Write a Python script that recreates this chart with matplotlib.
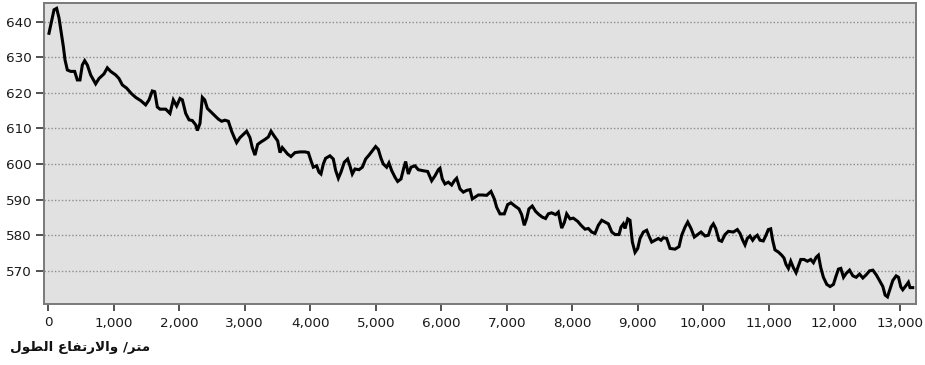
import matplotlib
matplotlib.use("Agg")
import matplotlib.pyplot as plt
from matplotlib import font_manager
from matplotlib.ft2font import FT2Font

# elevation profile: distance (m) and elevation (m)
dist = [15, 92, 132, 168, 203, 234, 260, 295, 346, 407, 447, 488, 524, 560, 600,
        651, 727, 778, 854, 905, 956, 1033, 1083, 1134, 1200, 1271, 1338, 1414,
        1490, 1541, 1591, 1628, 1668, 1709, 1796, 1861, 1912, 1963, 2014, 2050,
        2101, 2152, 2202, 2253, 2279, 2319, 2355, 2391, 2432, 2482, 2533, 2599,
        2650, 2700, 2752, 2802, 2843, 2878, 2929, 2980, 3031, 3082, 3117, 3158,
        3199, 3250, 3311, 3362, 3403, 3453, 3504, 3540, 3575, 3616, 3656, 3707,
        3768, 3845, 3921, 3972, 4013, 4048, 4099, 4135, 4165, 4201, 4236, 4302,
        4353, 4389, 4430, 4470, 4521, 4572, 4608, 4643, 4684, 4745, 4796, 4847,
        4898, 4948, 4999, 5040, 5081, 5116, 5167, 5202, 5243, 5294, 5335, 5386,
        5427, 5457, 5498, 5539, 5599, 5650, 5727, 5793, 5854, 5905, 5956, 5981,
        6016, 6057, 6108, 6159, 6200, 6235, 6286, 6337, 6388, 6439, 6474, 6515,
        6566, 6627, 6693, 6759, 6810, 6845, 6896, 6962, 7013, 7064, 7125, 7186,
        7227, 7267, 7303, 7338, 7389, 7440, 7491, 7541, 7592, 7633, 7684, 7745,
        7786, 7838, 7877, 7914, 7965, 8015, 8082, 8133, 8194, 8245, 8296, 8346,
        8397, 8449, 8499, 8550, 8602, 8652, 8713, 8743, 8779, 8804, 8846, 8880,
        8916, 8957, 8998, 9033, 9084, 9135, 9170, 9211, 9262, 9313, 9353, 9389,
        9440, 9491, 9567, 9628, 9669, 9720, 9761, 9811, 9862, 9913, 9964, 10025,
        10076, 10117, 10152, 10188, 10238, 10279, 10330, 10381, 10457, 10518,
        10559, 10600, 10635, 10670, 10711, 10752, 10787, 10823, 10864, 10914,
        10955, 10991, 11027, 11057, 11092, 11143, 11195, 11230, 11261, 11297,
        11333, 11373, 11414, 11450, 11486, 11536, 11587, 11638, 11679, 11720,
        11755, 11791, 11831, 11883, 11933, 11984, 12025, 12061, 12097, 12138,
        12179, 12230, 12281, 12331, 12382, 12433, 12484, 12535, 12586, 12637,
        12687, 12738, 12773, 12809, 12850, 12890, 12941, 12977, 13012, 13042,
        13093, 13128, 13153, 13194]
elev = [636.7, 643.3, 643.7, 641.0, 636.7, 633.0, 629.2, 626.4, 626.0, 626.0,
        623.6, 623.6, 627.8, 629.0, 627.8, 625.0, 622.5, 624.0, 625.3, 627.0,
        626.0, 625.0, 624.0, 622.2, 621.3, 619.8, 618.7, 617.8, 616.6, 618.0,
        620.5, 620.3, 616.0, 615.4, 615.4, 614.2, 618.0, 616.3, 618.4, 618.0,
        614.2, 612.4, 612.2, 611.0, 609.4, 611.4, 618.7, 618.0, 615.6, 614.7,
        613.8, 612.6, 612.0, 612.3, 612.0, 609.2, 607.4, 606.0, 607.4, 608.3,
        609.2, 607.4, 604.6, 602.5, 605.5, 606.2, 606.9, 607.6, 609.2, 607.8,
        606.5, 603.2, 604.6, 603.7, 602.8, 602.1, 603.2, 603.4, 603.4, 603.2,
        600.9, 599.1, 599.5, 597.7, 597.2, 600.0, 601.6, 602.3, 601.4, 598.2,
        596.0, 597.7, 600.5, 601.4, 599.4, 597.2, 598.6, 598.4, 599.1, 601.4,
        602.5, 603.7, 604.9, 604.1, 601.6, 600.0, 599.1, 600.3, 598.2, 596.3,
        595.1, 595.8, 598.8, 600.7, 597.2, 599.1, 599.5, 598.4, 598.1, 597.9,
        595.3, 596.7, 598.4, 598.8, 595.8, 594.4, 594.9, 594.1, 595.3, 596.0,
        593.0, 592.1, 592.6, 592.8, 590.2, 590.7, 591.3, 591.3, 591.2, 592.3,
        590.2, 587.9, 586.0, 586.0, 588.6, 589.1, 588.2, 587.4, 585.8, 582.8,
        584.7, 587.4, 588.2, 586.7, 585.8, 585.1, 584.7, 586.0, 586.3, 585.8,
        586.5, 582.0, 583.5, 586.0, 584.6, 584.8, 583.9, 582.8, 581.7, 581.9,
        580.9, 580.5, 582.8, 584.2, 583.7, 583.2, 580.9, 580.2, 580.2, 582.3,
        583.2, 581.9, 584.6, 584.2, 578.1, 575.2, 576.3, 579.1, 580.9, 581.4,
        579.8, 578.1, 578.6, 579.1, 578.6, 579.3, 579.1, 576.3, 576.1, 576.8,
        580.0, 582.3, 583.7, 581.9, 579.5, 580.2, 580.9, 579.8, 580.0, 582.3,
        583.2, 581.9, 578.6, 578.3, 580.2, 581.1, 580.9, 581.6, 580.5, 578.6,
        577.3, 579.1, 579.8, 578.6, 579.5, 580.0, 578.6, 578.4, 580.0, 581.6,
        581.8, 578.6, 575.9, 575.3, 574.4, 573.6, 571.8, 570.7, 572.7, 570.9,
        569.5, 571.4, 573.2, 573.2, 572.7, 573.2, 572.3, 573.8, 574.4, 570.9,
        568.2, 566.2, 565.6, 566.2, 568.6, 570.5, 570.7, 568.2, 569.3, 570.2,
        568.6, 568.2, 569.1, 568.0, 568.9, 570.0, 570.2, 568.9, 567.3, 565.6,
        563.2, 562.7, 565.0, 567.3, 568.6, 568.2, 565.5, 564.7, 565.9, 566.8,
        565.3, 565.3]

x_ticks = list(range(0, 13001, 1000))
y_ticks = [570, 580, 590, 600, 610, 620, 630, 640]
label_words = ['الطول', 'والارتفاع', '/', 'متر']

# simple arabic shaping -> presentation forms (matplotlib does no shaping)
FORMS = {
    'ا': (0xFE8D, 0xFE8E, None, None),
    'ل': (0xFEDD, 0xFEDE, 0xFEDF, 0xFEE0),
    'ط': (0xFEC1, 0xFEC2, 0xFEC3, 0xFEC4),
    'و': (0xFEED, 0xFEEE, None, None),
    'ر': (0xFEAD, 0xFEAE, None, None),
    'ت': (0xFE95, 0xFE96, 0xFE97, 0xFE98),
    'ف': (0xFED1, 0xFED2, 0xFED3, 0xFED4),
    'ع': (0xFEC9, 0xFECA, 0xFECB, 0xFECC),
    'م': (0xFEE1, 0xFEE2, 0xFEE3, 0xFEE4),
    '\uFEFB': (0xFEFB, 0xFEFC, None, None),
}


def shape(word):
    word = word.replace('لا', '\uFEFB')
    out = []
    for i, ch in enumerate(word):
        if ch not in FORMS:
            out.append(ch)
            continue
        f = FORMS[ch]
        prev = word[i - 1] if i > 0 else ''
        nxt = word[i + 1] if i + 1 < len(word) else ''
        jp = prev in FORMS and FORMS[prev][2] is not None
        jn = f[2] is not None and nxt in FORMS
        idx = 3 if (jp and jn) else 1 if jp else 2 if jn else 0
        out.append(chr(f[idx]))
    return ''.join(reversed(out))


label = ' '.join(shape(w) for w in label_words[:2]) + ' /' + shape(label_words[3])

# pick the DejaVu variant (bold/italic if possible) that actually has the glyphs
label_font = None
for w, s in [('bold', 'italic'), ('bold', 'normal'), ('normal', 'italic'), ('normal', 'normal')]:
    fp = font_manager.FontProperties(family='DejaVu Sans', weight=w, style=s)
    cmap = FT2Font(font_manager.findfont(fp)).get_charmap()
    if all(ord(c) in cmap for c in label if c.strip()):
        label_font = fp
        break
if label_font is None:
    label_font = font_manager.FontProperties(family='DejaVu Sans')
label_font.set_size(9.7)

fig = plt.figure(figsize=(9.25, 3.65), dpi=100)
ax = fig.add_axes([44 / 925, 1 - 304 / 365, 872 / 925, 301 / 365])
ax.set_facecolor('#e1e1e1')

ax.plot(dist, elev, color='black', lw=2.2, solid_joinstyle='miter')

ax.set_xlim(-61, 13244)
ax.set_ylim(560.7, 645.2)
ax.set_xticks(x_ticks)
ax.set_xticklabels(['{:,}'.format(v) for v in x_ticks])
ax.set_yticks(y_ticks)
ax.yaxis.grid(True, color='#8c8c8c', lw=1, linestyle=(0, (1, 1.5)))
ax.set_axisbelow(True)

for s in ax.spines.values():
    s.set_color('#7a7a7a')
    s.set_linewidth(1.4)
ax.tick_params(axis='both', colors='#333333', labelcolor='#1a1a1a', labelsize=9.7,
               width=1.2)
ax.tick_params(axis='y', length=6, pad=3)
ax.tick_params(axis='x', length=5, pad=4)

fig.text(10 / 925, 1 - 347 / 365, label, fontproperties=label_font,
         va='center', ha='left', color='#111111')

fig.savefig('out.png', dpi=100)
